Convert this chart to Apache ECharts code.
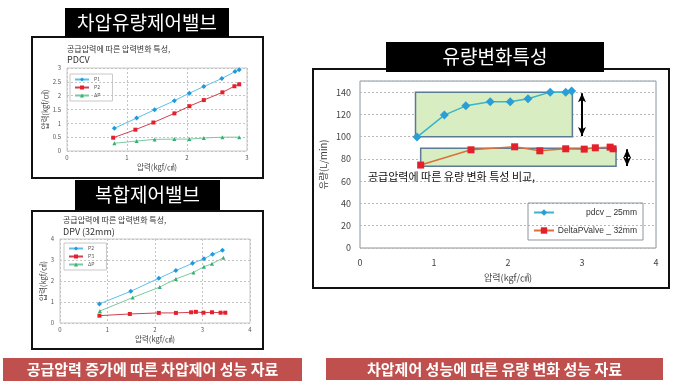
<!DOCTYPE html>
<html><head><meta charset="utf-8">
<script src="https://cdn.jsdelivr.net/npm/echarts@6/dist/echarts.min.js"></script>
<style>html,body{margin:0;padding:0;background:#fff}#c{width:680px;height:387px}</style>
</head><body><div id="c"></div>
<script>
// Chart 1: PDCV pressure characteristics
const c1P1X = [0.79,1.16,1.46,1.79,2.04,2.28,2.58,2.80,2.87];
const c1P1 = [0.82,1.19,1.49,1.82,2.09,2.33,2.62,2.87,2.94];
const c1P2X = [0.77,1.14,1.44,1.79,2.04,2.28,2.59,2.79,2.87];
const c1P2 = [0.48,0.77,1.03,1.36,1.62,1.84,2.12,2.34,2.41];
const c1DPX = [0.79,1.16,1.46,1.79,2.04,2.28,2.59,2.87];
const c1DP = [0.28,0.36,0.42,0.43,0.43,0.47,0.50,0.50];
// Chart 2: DPV (32mm) pressure characteristics
const c2P2X = [0.83,1.49,2.08,2.44,2.79,3.03,3.21,3.42];
const c2P2 = [0.91,1.51,2.13,2.50,2.84,3.06,3.27,3.46];
const c2P3X = [0.83,1.47,2.08,2.44,2.76,2.86,3.02,3.20,3.38,3.48];
const c2P3 = [0.35,0.43,0.48,0.48,0.51,0.53,0.49,0.51,0.49,0.49];
const c2DPX = [0.84,1.53,2.10,2.44,2.81,3.03,3.20,3.44];
const c2DP = [0.57,1.21,1.71,2.10,2.41,2.68,2.82,3.11];
// Chart 3: flow rate
const flowPdcvX = [0.77,1.14,1.43,1.76,2.03,2.27,2.57,2.78,2.86];
const flowPdcv = [99.6,119.4,127.7,131.3,131.3,134.0,140.0,140.0,141.0];
const flowDpvX = [0.82,1.50,2.09,2.43,2.78,3.03,3.18,3.38,3.42];
const flowDpv = [74.5,88.2,90.9,87.3,89.1,88.8,90.0,90.6,89.1];
const bandPdcv = [[0.75,100],[2.87,140]];
const bandDpv = [[0.82,73.5],[3.46,89.5]];
const arrowPdcv = [[3.0,139],[3.0,100.5]];
const arrowDpv = [[3.61,88.8],[3.61,73.6]];
// Labels
const c1Names = ['P1','P2','ΔP'];
const c2Names = ['P2','P3','ΔP'];
const c3Names = ['pdcv _ 25mm','DeltaPValve _ 32mm'];
const titles = ['차압유량제어밸브','복합제어밸브','유량변화특성'];
const banners = ['공급압력 증가에 따른 차압제어 성능 자료','차압제어 성능에 따른 유량 변화 성능 자료'];
const axisName = '압력(kgf/㎠)';
const flowName = '유량(L/min)';

const zip = (xs, ys) => xs.map((x, i) => [x, ys[i]]);
const FF = "'Noto Sans CJK KR','Liberation Sans',sans-serif";
const chart = echarts.init(document.getElementById('c'), null, {renderer:'canvas'});

function smallX(gi, max, gap, fs){
  return {gridIndex:gi, type:'value', min:0, max:max, interval:1,
    axisLine:{show:false}, axisTick:{show:false},
    axisLabel:{fontSize:fs, color:'#555', margin:4, fontFamily:FF},
    splitLine:{show:true, lineStyle:{color:'#c4c4c4', type:[2,2], width:1}},
    name:axisName, nameLocation:'middle', nameGap:gap,
    nameTextStyle:{fontSize:fs+1.5, color:'#444', fontFamily:FF}};
}
function smallY(gi, max, iv, gap, fs){
  return {gridIndex:gi, type:'value', min:0, max:max, interval:iv,
    axisLine:{show:false}, axisTick:{show:false},
    axisLabel:{fontSize:fs, color:'#555', margin:6, fontFamily:FF},
    splitLine:{show:true, lineStyle:{color:'#c4c4c4', type:[2,2], width:1}},
    name:axisName, nameLocation:'middle', nameGap:gap, nameRotate:90,
    nameTextStyle:{fontSize:fs+1.5, color:'#444', fontFamily:FF}};
}
const blueL = '#5cc0ea', blueM = '#1d9ae0', redL = '#d04050', redM = '#e3202c', grnL = '#7cc8a0', grnM = '#36b070';
function ser(name, xi, xs, ys, sym, ss, lc, mc){
  return {type:'line', name:name, xAxisIndex:xi, yAxisIndex:xi, data:zip(xs, ys),
    symbol:sym, symbolSize:ss, showSymbol:true,
    lineStyle:{color:lc, width:1}, itemStyle:{color:mc}};
}

const elements = [];
function frame(x,y,w,h){ elements.push({type:'rect', shape:{x:x,y:y,width:w,height:h}, style:{fill:null, stroke:'#111', lineWidth:2}, z:5}); }
function tbox(x,y,w,h,t,fs){
  elements.push({type:'rect', shape:{x:x,y:y,width:w,height:h}, style:{fill:'#000'}, z:10});
  elements.push({type:'text', x:x+w/2, y:y+h/2, z:11, style:{text:t, fill:'#fff', fontSize:fs, fontFamily:FF, textAlign:'center', textVerticalAlign:'middle'}});
}
function banner(x,y,w,h,t){
  elements.push({type:'rect', shape:{x:x,y:y,width:w,height:h}, style:{fill:'#c0504d'}, z:10});
  elements.push({type:'text', x:x+w/2, y:y+h/2, z:11, style:{text:t, fill:'#fff', fontSize:15, fontWeight:'bold', fontFamily:FF, textAlign:'center', textVerticalAlign:'middle'}});
}
function label(x,y,t,fs,col){
  elements.push({type:'text', x:x, y:y, z:11, style:{text:t, fill:col||'#333', fontSize:fs, fontFamily:FF, textAlign:'left', textVerticalAlign:'middle'}});
}
frame(32,37,231,141); frame(32,211,231,138); frame(313,69,356,219);
tbox(65,8,164,29,titles[0],19); tbox(75,180,145,30,titles[1],19); tbox(386,42,218,30,titles[2],19);
banner(3,358,299,23,banners[0]); banner(326,358,337,22,banners[1]);
label(67,49,'공급압력에 따른 압력변화 특성,',8); label(67,60,'PDCV',9);
label(63,220,'공급압력에 따른 압력변화 특성,',8); label(63,232,'DPV (32mm)',9);
label(368,177,'공급압력에 따른 유량 변화 특성 비교,',11,'#111');

const option = {
  animation:false,
  textStyle:{fontFamily:FF},
  grid:[
    {left:67, top:68, width:180, height:83, show:true, borderColor:'#c8c8c8', borderWidth:1},
    {left:60, top:239, width:190, height:84, show:true, borderColor:'#c8c8c8', borderWidth:1},
    {left:360, top:81, width:296, height:167, show:true, borderColor:'#8c96a0', borderWidth:1}
  ],
  xAxis:[
    smallX(0,3,12,6), smallX(1,4,12,6),
    {gridIndex:2, type:'value', min:0, max:4, interval:1,
      axisLine:{show:false}, axisTick:{show:false},
      axisLabel:{fontSize:9, color:'#444', margin:10},
      splitLine:{show:false},
      name:axisName, nameLocation:'middle', nameGap:25,
      nameTextStyle:{fontSize:9, color:'#444'}}
  ],
  yAxis:[
    smallY(0,3,0.5,16,6), smallY(1,4,1,13,6),
    {gridIndex:2, type:'value', min:0, max:150, interval:20,
      axisLine:{show:false}, axisTick:{show:false},
      axisLabel:{fontSize:9, color:'#444', margin:9, formatter:v => v > 140 ? '' : String(v)},
      splitLine:{show:true, lineStyle:{color:'#b8b8b8', type:[2,2], width:1}},
      name:flowName, nameLocation:'middle', nameGap:32, nameRotate:90,
      nameTextStyle:{fontSize:9.5, color:'#444'}}
  ],
  legend:[
    {left:70, top:74, orient:'vertical', data:c1Names, borderColor:'#c8c8c8', borderWidth:1,
      padding:[3,12,3,4], itemGap:3, itemWidth:14, itemHeight:5, textStyle:{fontSize:5, color:'#555'}},
    {left:64, top:243, orient:'vertical', data:c2Names.map(n => n + ' (DPV)'), formatter:n => n.replace(' (DPV)',''),
      borderColor:'#c8c8c8', borderWidth:1,
      padding:[3,12,3,4], itemGap:3, itemWidth:14, itemHeight:5, textStyle:{fontSize:5, color:'#555'}},
    {left:528, top:203, orient:'vertical', data:c3Names, borderColor:'#8c96a0', borderWidth:1,
      padding:[5,6,5,5], itemGap:9, itemWidth:20, itemHeight:8,
      formatter:n => '{t|' + n + '}',
      textStyle:{fontSize:8.5, color:'#333', rich:{t:{width:78, align:'right', fontSize:8.5, fontFamily:"'Liberation Sans',sans-serif"}}}}
  ],
  series:[
    ser(c1Names[0],0,c1P1X,c1P1,'diamond',5,blueL,blueM),
    ser(c1Names[1],0,c1P2X,c1P2,'rect',4,redL,redM),
    ser(c1Names[2],0,c1DPX,c1DP,'triangle',4,grnL,grnM),
    ser(c2Names[0]+' (DPV)',1,c2P2X,c2P2,'diamond',5,blueL,blueM),
    ser(c2Names[1]+' (DPV)',1,c2P3X,c2P3,'rect',4,redL,redM),
    ser(c2Names[2]+' (DPV)',1,c2DPX,c2DP,'triangle',4,grnL,grnM),
    {type:'line', name:c3Names[0], xAxisIndex:2, yAxisIndex:2, data:zip(flowPdcvX, flowPdcv),
      symbol:'diamond', symbolSize:9, lineStyle:{color:'#3ab5c5', width:1.5}, itemStyle:{color:'#2a9fd6'}, z:3,
      markArea:{silent:true, itemStyle:{color:'#d8edc2', borderColor:'#5b7a94', borderWidth:1.5},
        data:[[{coord:bandPdcv[0]},{coord:bandPdcv[1]}]]},
      markLine:{silent:true, symbol:['arrow','arrow'], symbolSize:[6,9], label:{show:false},
        lineStyle:{color:'#000', width:2, type:'solid'},
        data:[[{coord:arrowPdcv[0]},{coord:arrowPdcv[1]}],[{coord:arrowDpv[0]},{coord:arrowDpv[1]}]]}},
    {type:'line', name:c3Names[1], xAxisIndex:2, yAxisIndex:2, data:zip(flowDpvX, flowDpv),
      symbol:'rect', symbolSize:7, lineStyle:{color:'#d9703a', width:1.5}, itemStyle:{color:'#e3202c'}, z:4,
      markArea:{silent:true, itemStyle:{color:'#d8edc2', borderColor:'#5b7a94', borderWidth:1.5},
        data:[[{coord:bandDpv[0]},{coord:bandDpv[1]}]]}}
  ],
  graphic:{elements:elements}
};
chart.setOption(option);
</script></body></html>
